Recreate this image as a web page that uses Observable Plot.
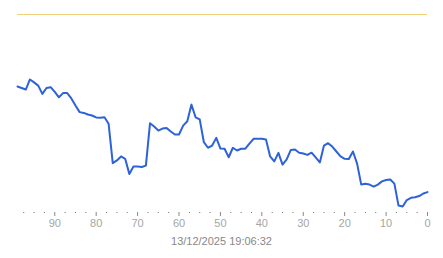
<!DOCTYPE html>
<html>
<head>
<meta charset="utf-8">
<script src="https://cdn.jsdelivr.net/npm/d3@7"></script>
<script src="https://cdn.jsdelivr.net/npm/@observablehq/plot@0.6"></script>
<style>
  html, body { margin: 0; padding: 0; background: #fff; }
  #caption { width: 443px; text-align: center; font: 11px "Liberation Sans", Arial, sans-serif; color: #888; line-height: 18px; }
</style>
</head>
<body>
<div id="chart"></div>
<div id="caption"></div>
<script>
// Values indexed by age (0 = newest, right edge; 99 = oldest, left edge)
const values = [
  10.3, 9.6, 8.3, 7.7, 7.4, 6.3, 3.0, 3.5, 14.6, 16.7,
  16.4, 15.7, 14.1, 13.1, 14.1, 14.5, 14.1, 24.7, 30.8, 27.0,
  27.1, 28.3, 30.8, 33.3, 35.0, 33.8, 25.3, 27.8, 30.2, 29.1,
  29.8, 30.2, 31.8, 31.6, 26.8, 24.2, 30.1, 25.8, 28.3, 36.9,
  37.2, 37.2, 37.2, 34.8, 32.2, 32.2, 31.3, 32.7, 27.9, 32.2,
  32.3, 37.7, 33.8, 32.7, 35.5, 47.0, 48.1, 54.5, 46.1, 43.9,
  39.4, 39.4, 40.9, 42.7, 42.4, 41.4, 43.4, 45.1, 23.7, 23.0,
  23.2, 23.2, 19.5, 27.1, 28.3, 26.3, 24.9, 44.8, 48.1, 47.8,
  48.0, 49.0, 49.5, 50.3, 50.7, 54.0, 57.6, 60.3, 60.3, 58.2,
  60.9, 63.3, 62.9, 59.9, 64.1, 65.7, 67.2, 62.1, 62.9, 63.6
];
const ages = values.map((_, i) => i);
const limit = [100];
const majorTicks = [0, 10, 20, 30, 40, 50, 60, 70, 80, 90];
const minorTicks = d3.range(0, 100, 2.5).filter(t => t % 10 !== 0);
const caption = "13/12/2025 19:06:32";

const data = ages.map((a, i) => ({age: a, value: values[i]}));

const chart = Plot.plot({
  width: 443,
  height: 232,
  marginLeft: 17,
  marginRight: 16,
  marginTop: 14,
  marginBottom: 20,
  style: { fontFamily: "'Liberation Sans', Arial, sans-serif", fontSize: "11px", background: "#fff" },
  x: { domain: [99, 0] },
  y: { domain: [0, 100], axis: null },
  marks: [
    Plot.ruleY(limit, { stroke: "#f0d078", strokeWidth: 1 }),
    Plot.axisX(minorTicks, { tickSize: 1, tickPadding: 0, stroke: "#777", text: null, label: null }),
    Plot.axisX(majorTicks, { tickSize: 4, tickPadding: 3, stroke: "#888", fill: "#a6a6a6", label: null, fontSize: 11 }),
    Plot.line(data, { x: "age", y: "value", stroke: "#2d62d8", strokeWidth: 2, strokeLinejoin: "round" })
  ]
});
document.getElementById("chart").appendChild(chart);
document.getElementById("caption").textContent = caption;
</script>
</body>
</html>
